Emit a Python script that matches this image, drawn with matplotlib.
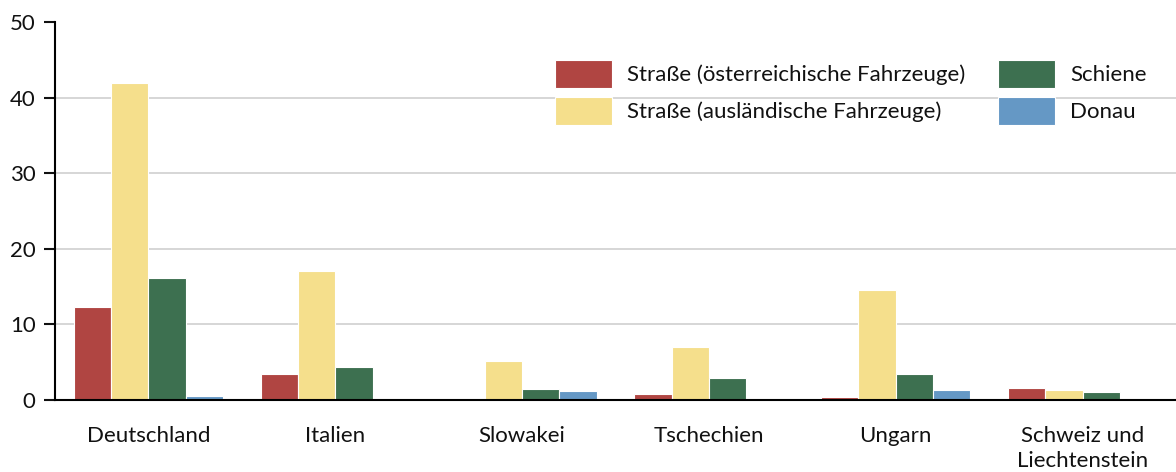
import matplotlib
matplotlib.use("Agg")
import matplotlib.pyplot as plt
import numpy as np

categories = ["Deutschland", "Italien", "Slowakei", "Tschechien", "Ungarn", "Schweiz und\nLiechtenstein"]
series_names = ["Straße (österreichische Fahrzeuge)", "Straße (ausländische Fahrzeuge)", "Schiene", "Donau"]
strasse_at = [12.3, 3.5, 0.17, 0.85, 0.45, 1.6]
strasse_ausl = [41.9, 17.1, 5.1, 7.05, 14.6, 1.3]
schiene = [16.2, 4.4, 1.45, 2.9, 3.4, 1.0]
donau = [0.55, 0.0, 1.25, 0.0, 1.35, 0.0]
colors = ["#B04542", "#F5DF8C", "#3D7050", "#6598C5"]
yticks = [0, 10, 20, 30, 40, 50]

plt.rcParams['font.family'] = ['Lato', 'DejaVu Sans']

fig = plt.figure(figsize=(11.76, 4.72), dpi=100)
ax = fig.add_axes([55/1176, 1-400/472, 1-55/1176, (400-22)/472])

x = np.arange(len(categories))
w = 0.2
series = [strasse_at, strasse_ausl, schiene, donau]
handles = []
for i, (vals, c, name) in enumerate(zip(series, colors, series_names)):
    b = ax.bar(x + (i - 1.5) * w, vals, width=w, color=c, edgecolor="white",
               linewidth=0.8, label=name, zorder=3)
    handles.append(b)

fs = 16
ax.set_xlim(-0.5, len(categories) - 0.5)
ax.set_ylim(0, 50)
ax.set_yticks(yticks)
ax.set_xticks(x)
ax.set_xticklabels(categories, fontsize=fs, color="#111111", linespacing=1.3)
ax.tick_params(axis='y', labelsize=fs, length=8, width=1.5, direction='out', pad=6, colors="#111111")
ax.tick_params(axis='x', length=0, pad=19)
for t in ax.get_yticklabels():
    t.set_color("#111111")

for yv in yticks[1:-1]:
    ax.axhline(yv, color="#D0D0D0", linewidth=1.2, zorder=1)

for s in ["top", "right"]:
    ax.spines[s].set_visible(False)
ax.spines["left"].set_linewidth(1.5)
ax.spines["bottom"].set_linewidth(1.5)
ax.spines["bottom"].set_zorder(4)

leg = fig.legend(handles=handles, labels=series_names, ncol=2, frameon=False,
                 loc="upper left", bbox_to_anchor=(555/1176, 1-60/472),
                 bbox_transform=fig.transFigure, borderpad=0, borderaxespad=0,
                 fontsize=fs, handlelength=2.57, handleheight=1.55,
                 handletextpad=0.68, columnspacing=1.45, labelspacing=0.4)
for t in leg.get_texts():
    t.set_color("#111111")

fig.savefig("out.png", dpi=100)
